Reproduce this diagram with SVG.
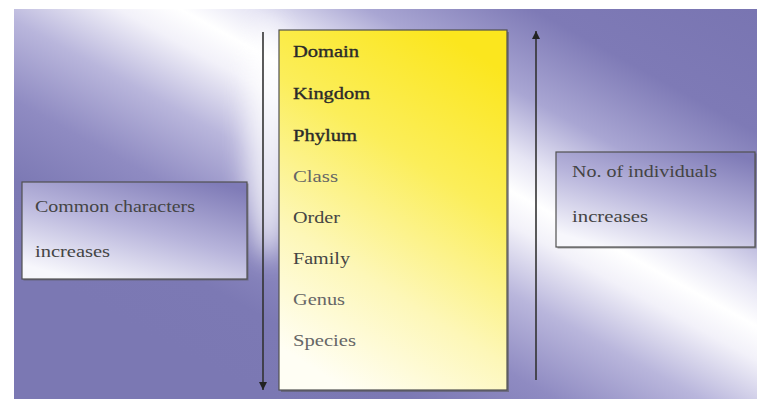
<svg xmlns="http://www.w3.org/2000/svg" width="757" height="399" viewBox="0 0 757 399">
  <style>
    .t { font-family: "Liberation Serif", "Times New Roman", serif; font-size: 16px; }
    .dark { fill: #2a2a2a; stroke: #2a2a2a; stroke-width: 0.35; }
    .mid { fill: #444; }
    .light { fill: #666; }
    .side { fill: #444; }
    .box { stroke: #505050; stroke-width: 1.2; }
    .shadow { fill: #555; opacity: 0.55; }
    .conn { stroke: #333; stroke-width: 1.6; fill: none; }
  </style>
  <defs>
    <linearGradient id="bg" gradientUnits="userSpaceOnUse" x1="544.6" y1="-132.8" x2="255.4" y2="392.8">
      <stop offset="0" stop-color="#7874b1"/>
      <stop offset="0.217" stop-color="#7e7ab6"/>
      <stop offset="0.35" stop-color="#a9a6d3"/>
      <stop offset="0.442" stop-color="#e6e5f4"/>
      <stop offset="0.5" stop-color="#ffffff"/>
      <stop offset="0.55" stop-color="#f2f1f9"/>
      <stop offset="0.65" stop-color="#b9b6dc"/>
      <stop offset="0.767" stop-color="#8f8bc2"/>
      <stop offset="0.883" stop-color="#7c79b4"/>
      <stop offset="1" stop-color="#7b78b3"/>
    </linearGradient>
    <linearGradient id="yel" x1="0.7" y1="0" x2="0.3" y2="1">
      <stop offset="0" stop-color="#fbe61e"/>
      <stop offset="0.35" stop-color="#fbee5a"/>
      <stop offset="0.7" stop-color="#fdf7b8"/>
      <stop offset="1" stop-color="#fffef4"/>
    </linearGradient>
    <linearGradient id="lav" x1="0.25" y1="1" x2="0.85" y2="0">
      <stop offset="0" stop-color="#f7f7fc"/>
      <stop offset="0.5" stop-color="#b7b4db"/>
      <stop offset="1" stop-color="#7f7bb7"/>
    </linearGradient>
    <filter id="blur" x="-1" y="-1" width="3" height="3">
      <feGaussianBlur stdDeviation="12"/>
    </filter>
    <marker id="ah" markerUnits="userSpaceOnUse" markerWidth="8" markerHeight="8" viewBox="0 0 8 8" refX="8" refY="4" orient="auto">
      <path d="M0,0 L8,4 L0,8 z" fill="#222"/>
    </marker>
  </defs>

  <rect x="0" y="0" width="757" height="399" fill="#ffffff"/>
  <rect x="14" y="9" width="743" height="390" fill="url(#bg)"/>
  <ellipse cx="268" cy="140" rx="22" ry="120" fill="#ffffff" opacity="0.75" filter="url(#blur)"/>

  <g id="taxonomy">
    <rect class="shadow" x="281" y="32" width="228" height="360"/>
    <rect class="box" x="279" y="30" width="228" height="360" fill="url(#yel)"/>
    <text class="t dark" x="293" y="57" textLength="66" lengthAdjust="spacingAndGlyphs">Domain</text>
    <text class="t dark" x="293" y="99" textLength="77" lengthAdjust="spacingAndGlyphs">Kingdom</text>
    <text class="t dark" x="293" y="141" textLength="64" lengthAdjust="spacingAndGlyphs">Phylum</text>
    <text class="t light" x="293" y="182" textLength="45" lengthAdjust="spacingAndGlyphs">Class</text>
    <text class="t mid" x="293" y="223" textLength="47" lengthAdjust="spacingAndGlyphs">Order</text>
    <text class="t mid" x="293" y="264" textLength="57" lengthAdjust="spacingAndGlyphs">Family</text>
    <text class="t light" x="293" y="305" textLength="52" lengthAdjust="spacingAndGlyphs">Genus</text>
    <text class="t light" x="293" y="346" textLength="63" lengthAdjust="spacingAndGlyphs">Species</text>
  </g>

  <g id="common-characters">
    <rect class="shadow" x="23.5" y="183.5" width="225" height="97"/>
    <rect class="box" x="22" y="182" width="225" height="97" fill="url(#lav)"/>
    <text class="t side" x="35" y="212" textLength="160" lengthAdjust="spacingAndGlyphs">Common characters</text>
    <text class="t side" x="35" y="257" textLength="75" lengthAdjust="spacingAndGlyphs">increases</text>
  </g>

  <g id="individuals">
    <rect class="shadow" x="557.5" y="153.5" width="199" height="95"/>
    <rect class="box" x="556" y="152" width="199" height="95" fill="url(#lav)"/>
    <text class="t side" x="572" y="177" textLength="145" lengthAdjust="spacingAndGlyphs">No. of individuals</text>
    <text class="t side" x="572" y="222" textLength="76" lengthAdjust="spacingAndGlyphs">increases</text>
  </g>

  <g id="connectors">
    <line class="conn" x1="263" y1="32" x2="263" y2="390" marker-end="url(#ah)"/>
    <line class="conn" x1="536" y1="380" x2="536" y2="31" marker-end="url(#ah)"/>
  </g>
</svg>
